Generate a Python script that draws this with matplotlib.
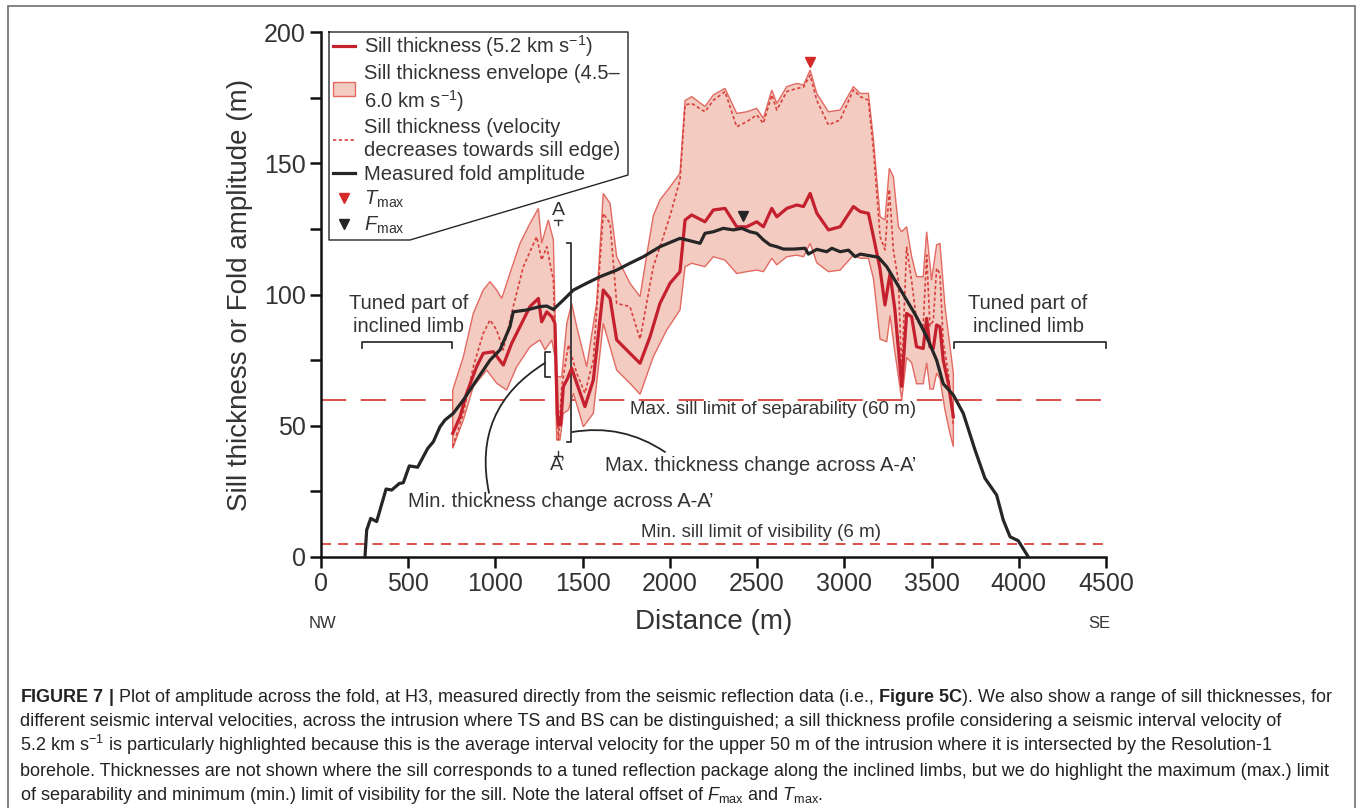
import numpy as np
import matplotlib
matplotlib.use("Agg")
import matplotlib.pyplot as plt
from matplotlib.lines import Line2D
from matplotlib.patches import Patch, Rectangle
from matplotlib.ticker import MultipleLocator

plt.rcParams['font.family'] = ['Liberation Sans', 'DejaVu Sans']
plt.rcParams['mathtext.fontset'] = 'custom'
plt.rcParams['mathtext.rm'] = 'Liberation Sans'
plt.rcParams['mathtext.it'] = 'Liberation Sans:italic'
plt.rcParams['mathtext.bf'] = 'Liberation Sans:bold'

# measured fold amplitude (m) against distance (m)
fold_x = [252, 262, 285, 319, 373, 405, 449, 472, 506, 554, 612, 644, 682, 711, 758,
          816, 892, 969, 1026, 1083, 1102, 1179, 1255, 1294, 1332, 1389, 1447, 1523,
          1600, 1695, 1771, 1848, 1943, 2058, 2096, 2173, 2201, 2249, 2306, 2364, 2412,
          2459, 2498, 2536, 2574, 2613, 2651, 2708, 2775, 2794, 2842, 2899, 2928, 2976,
          3024, 3062, 3091, 3195, 3243, 3300, 3357, 3414, 3472, 3529, 3567, 3625, 3682,
          3749, 3806, 3873, 3911, 3950, 3997, 4055]
fold_y = [0, 10.3, 14.7, 13.5, 25.9, 25.5, 28, 28.3, 34.7, 34.2, 41.4, 43.9, 49.6, 52.2, 54.7,
          59.8, 67.4, 75, 78.9, 87.7, 93.4, 94.1, 95.4, 95.6, 94.3, 97.9, 101.7, 104.3,
          106.8, 109.3, 111.9, 114.4, 118.2, 121.4, 120.8, 119.5, 123.3, 123.9, 125.2, 124.6, 125.2,
          123.9, 123.3, 120.8, 118.9, 118.2, 117.3, 117.3, 117.6, 115.4, 117.2, 116.3, 117.6, 116.3,
          116.9, 114.4, 115.4, 114.2, 110.6, 104.3, 97.9, 91.5, 83.9, 75, 66, 61.7, 54.7,
          40.8, 30, 23.6, 14.1, 7.7, 6.2, 0]

# sill thickness at 5.2 km/s
sill_x = [755, 797, 835, 892, 930, 988, 1045, 1093, 1150, 1198, 1246, 1265, 1294, 1323, 1341,
          1355, 1361, 1374, 1389, 1409, 1437, 1466, 1513, 1561, 1618, 1657, 1695, 1771, 1829,
          1886, 1943, 2001, 2058, 2087, 2125, 2201, 2249, 2316, 2383, 2440, 2498, 2536, 2584,
          2613, 2670, 2727, 2766, 2804, 2842, 2909, 2976, 3052, 3091, 3138, 3167, 3204, 3233,
          3262, 3290, 3329, 3357, 3386, 3414, 3452, 3472, 3491, 3510, 3529, 3548, 3567, 3596, 3625]
sill_y = [47.1, 53.4, 62.4, 72.5, 77.6, 78.2, 73.1, 81.4, 89, 95.4, 98.5, 89.6, 93.4, 91.5, 89,
          54.7, 50.3, 50.3, 64.9, 67.4, 71.9, 66.2, 57.3, 67.4, 101.7, 98.5, 82.7, 77.6, 73.8,
          83.9, 96.6, 104.3, 108.7, 128.4, 130.3, 127.7, 132.2, 132.8, 125.8, 125.8, 127.7, 125.8, 132.8,
          129.6, 132.8, 134.1, 133.5, 138.5, 131, 124.6, 125.8, 133.5, 131.6, 130.9, 122, 110, 96,
          108, 94.1, 65, 92.8, 91.5, 80.1, 79.4, 90.9, 80.1, 79.4, 88.4, 87.7, 75, 66.2, 53.4]

# envelope 4.5-6.0 km/s, upper and lower edges
env_hi_x = [755, 816, 873, 930, 969, 1007, 1036, 1083, 1141, 1198, 1246, 1265, 1303, 1332, 1341,
            1351, 1380, 1409, 1437, 1466, 1523, 1580, 1618, 1657, 1695, 1771, 1829, 1867, 1905,
            1943, 2001, 2058, 2087, 2125, 2201, 2249, 2316, 2383, 2440, 2498, 2536, 2584, 2613,
            2670, 2727, 2766, 2804, 2842, 2909, 2976, 3052, 3091, 3138, 3167, 3205, 3233, 3258,
            3281, 3310, 3329, 3357, 3386, 3414, 3452, 3472, 3500, 3529, 3548, 3577, 3606, 3625]
env_hi_y = [63.6, 76.3, 92.8, 101.7, 104.9, 101.7, 98.5, 108, 119.5, 127.1, 132.8, 119.5, 128.4, 120.8, 94.1,
            68.7, 68.7, 89, 96.6, 87.7, 72.5, 96.6, 138.5, 134.7, 114.4, 104.3, 99.2, 115, 130,
            136, 141, 146.2, 173.9, 175.4, 171.6, 176, 178.5, 169, 169.6, 170.9, 167.1, 177.9, 172.8,
            179.2, 180.4, 179.8, 185.5, 176.6, 169.6, 170.3, 179.2, 176.6, 176.6, 158.9, 129.6, 128.4, 148.1,
            144.9, 125.8, 123.9, 125.8, 114.4, 106.8, 106.8, 123.9, 105.5, 118.9, 119.5, 95.4, 80.1, 70]
env_lo_x = [755, 816, 873, 950, 1007, 1064, 1122, 1198, 1255, 1284, 1323, 1341, 1351, 1370, 1389,
            1418, 1447, 1504, 1561, 1618, 1695, 1771, 1829, 1905, 1982, 2058, 2087, 2125, 2201,
            2249, 2316, 2383, 2440, 2498, 2536, 2584, 2613, 2670, 2727, 2766, 2804, 2842, 2909,
            2976, 3052, 3091, 3138, 3167, 3205, 3243, 3262, 3290, 3329, 3357, 3386, 3414, 3452,
            3472, 3491, 3510, 3529, 3548, 3577, 3606, 3625]
env_lo_y = [41.4, 52.2, 64.9, 71.2, 66.2, 63.6, 72.5, 80.1, 82.7, 78.9, 82.7, 76.3, 44.6, 44.6, 54.7,
            56, 62.4, 49.6, 54.7, 89, 71.2, 66.2, 62, 76.3, 86.5, 94.1, 110.6, 111.9, 110.6,
            114.4, 113.1, 108, 108.7, 109.3, 108.7, 113.8, 111.3, 114.4, 115, 114.4, 119.5, 112.1, 108.7,
            109.3, 115, 113.8, 113.8, 106, 83, 82, 92, 78, 60, 76, 74, 66, 66,
            74, 64, 64, 70, 68, 56, 47, 42]

# thickness with velocity decreasing towards the sill edge
edge_x = [755, 816, 873, 930, 969, 1007, 1045, 1102, 1160, 1236, 1265, 1294, 1332, 1347, 1361,
          1380, 1418, 1466, 1513, 1561, 1618, 1657, 1695, 1771, 1829, 1905, 1962, 2001, 2058,
          2087, 2125, 2201, 2249, 2316, 2383, 2440, 2498, 2536, 2584, 2613, 2670, 2727, 2766,
          2804, 2842, 2909, 2976, 3052, 3091, 3138, 3167, 3205, 3233, 3258, 3281, 3310, 3329,
          3357, 3386, 3414, 3452, 3472, 3491, 3510, 3529, 3548, 3567, 3596, 3625]
edge_y = [42, 54.7, 72.5, 85.2, 90.3, 86.5, 78.9, 95.4, 110.6, 122, 113.1, 118.2, 105.5, 72.5, 44.6,
          64.9, 80.8, 70, 62.4, 75, 130.9, 127.1, 96.6, 95.4, 83, 110.6, 122, 130, 143.6,
          172.2, 172.8, 169.6, 174, 177.3, 163.9, 165.8, 168.4, 165.2, 176, 170.3, 177.3, 178.5, 179,
          183.6, 174, 164.6, 166.5, 177.9, 175.4, 174, 155, 122, 117, 140, 117, 105, 70,
          118, 105, 90, 88, 115, 88, 90, 110, 108, 82, 70, 50]

t_max = (2803, 188.7)
f_max = (2419, 129.9)
separability = 60
visibility_line = 5

RED = '#c4202e'
FILL = '#f3cbc1'
EDGE = '#e26a62'
DOT = '#d8403c'
BLACK = '#262626'
TXT = '#333333'

W, H = 1362, 808


def fx(px):
    return px / W


def fy(py):
    return 1 - py / H


fig = plt.figure(figsize=(W / 100, H / 100), dpi=100)
ax = fig.add_axes([fx(321), fy(557), 785 / W, 525 / H])

# reference limits
ax.axhline(separability, color=DOT, lw=1.3, dashes=(14, 8), zorder=0.5)
ax.axhline(visibility_line, color=DOT, lw=1.3, dashes=(5.5, 4), zorder=0.5)

# envelope, dotted and solid sill thickness, fold amplitude
ax.fill(np.concatenate([env_hi_x, env_lo_x[::-1]]),
        np.concatenate([env_hi_y, env_lo_y[::-1]]),
        facecolor=FILL, edgecolor=EDGE, lw=1.0, zorder=1)
ax.plot(edge_x, edge_y, color=DOT, lw=1.2, dashes=(2, 1.5), zorder=2)
ax.plot(sill_x, sill_y, color=RED, lw=2.3, zorder=3)
ax.plot(fold_x, fold_y, color=BLACK, lw=2.3, zorder=4)
ax.plot(*t_max, marker='v', color='#d42a2a', ms=7, zorder=5)
ax.plot(*f_max, marker='v', color=BLACK, ms=7, zorder=5)

ax.set_xlim(0, 4500)
ax.set_ylim(0, 200)
for s in ['top', 'right']:
    ax.spines[s].set_visible(False)
for s in ['left', 'bottom']:
    ax.spines[s].set_linewidth(1.8)
    ax.spines[s].set_color('#111111')
ax.set_xticks(np.arange(0, 4501, 500))
ax.set_yticks(np.arange(0, 201, 50))
ax.yaxis.set_minor_locator(MultipleLocator(25))
ax.tick_params(which='both', direction='out', length=8, width=1.8, color='#111111',
               labelsize=18, labelcolor=TXT, pad=3)

ax.set_ylabel('Sill thickness or Fold amplitude (m)', fontsize=20, color=TXT)
ax.yaxis.label.set_va('center')
ax.yaxis.set_label_coords(-0.103, 0.5)
ax.set_xlabel('Distance (m)', fontsize=20, color=TXT)
ax.xaxis.label.set_va('center')
ax.xaxis.set_label_coords(0.5, -0.124)
ax.text(0.0025, -0.126, 'NW', transform=ax.transAxes, ha='center', va='center',
        fontsize=12, color=TXT)
ax.text(0.992, -0.126, 'SE', transform=ax.transAxes, ha='center', va='center',
        fontsize=12, color=TXT)

# annotations
ax.text(1771, 56, 'Max. sill limit of separability (60 m)', fontsize=13.5, color=TXT, va='center')
ax.text(1834, 9.5, 'Min. sill limit of visibility (6 m)', fontsize=13.5, color=TXT, va='center')
ax.text(504, 92.2, 'Tuned part of\ninclined limb', fontsize=14.5, color=TXT, ha='center',
        va='center', linespacing=1.3)
ax.text(4053, 92.2, 'Tuned part of\ninclined limb', fontsize=14.5, color=TXT, ha='center',
        va='center', linespacing=1.3)
ax.plot([237, 237, 749, 749], [79.6, 82, 82, 79.6], color=TXT, lw=1.3, clip_on=False)
ax.plot([3629, 3629, 4500, 4500], [79.6, 82, 82, 79.6], color=TXT, lw=1.3, clip_on=False)

ax.text(1359, 132, 'A', fontsize=14, color=TXT, ha='center', va='center')
ax.plot([1336, 1382], [128.4, 128.4], color=TXT, lw=1)
ax.plot([1359, 1359], [128.4, 126.6], color=TXT, lw=1)
ax.text(1359, 35, 'A’', fontsize=14, color=TXT, ha='center', va='center')
ax.plot([1336, 1382], [38.5, 38.5], color=TXT, lw=1)
ax.plot([1359, 1359], [38.5, 40.3], color=TXT, lw=1)

ax.plot([1408, 1433, 1433, 1408], [119.5, 119.5, 43.9, 43.9], color=TXT, lw=1.3)
ax.plot([1313, 1284, 1284, 1313], [78.1, 78.1, 68.6, 68.6], color=TXT, lw=1.3)
ax.annotate('', xy=(1972, 40), xytext=(1439, 47.6),
            arrowprops=dict(arrowstyle='-', color=BLACK, lw=1.3, shrinkA=0, shrinkB=0,
                            connectionstyle='arc3,rad=-0.2'))
ax.annotate('', xy=(1284, 73.9), xytext=(963, 24.4),
            arrowprops=dict(arrowstyle='-', color=BLACK, lw=1.3, shrinkA=0, shrinkB=0,
                            connectionstyle='arc3,rad=-0.35'))
ax.text(1628, 35, 'Max. thickness change across A-A’', fontsize=14.5, color=TXT, va='center')
ax.text(499, 21, 'Min. thickness change across A-A’', fontsize=14.5, color=TXT, va='center')

# legend with its cut-corner box
handles = [
    Line2D([], [], color=RED, lw=2.3),
    Patch(facecolor=FILL, edgecolor=EDGE, lw=1),
    Line2D([], [], color=DOT, lw=1.2, dashes=(2, 1.5)),
    Line2D([], [], color=BLACK, lw=2.3),
    Line2D([], [], color='#d42a2a', marker='v', ls='none', ms=7),
    Line2D([], [], color=BLACK, marker='v', ls='none', ms=7),
]
labels = [
    'Sill thickness (5.2 km s$^{-1}$)',
    'Sill thickness envelope (4.5–\n6.0 km s$^{-1}$)',
    'Sill thickness (velocity\ndecreases towards sill edge)',
    'Measured fold amplitude',
    r'$T_{\mathrm{max}}$',
    r'$F_{\mathrm{max}}$',
]
leg = ax.legend(handles, labels, loc='upper left', bbox_to_anchor=(fx(333), fy(33)),
                bbox_transform=fig.transFigure, frameon=False, fontsize=14.5,
                handlelength=1.1, handletextpad=0.45, labelspacing=0.24,
                borderpad=0, borderaxespad=0)
for t in leg.get_texts():
    t.set_color(TXT)
    t.set_linespacing(1.25)
box = [(329, 32), (628, 32), (628, 175), (410, 240), (329, 240), (329, 32)]
fig.add_artist(Line2D([fx(p[0]) for p in box], [fy(p[1]) for p in box],
                      color=BLACK, lw=1.0))

# frame and caption
fig.add_artist(Rectangle((fx(8), -0.05), fx(1355) - fx(8), fy(6) + 0.05,
                         fill=False, edgecolor='#707070', lw=1.2))
caption = [
    r'$\mathbf{FIGURE\ 7\ |}$ Plot of amplitude across the fold, at H3, measured directly from the '
    r'seismic reflection data (i.e., $\mathbf{Figure\ 5C}$). We also show a range of sill thicknesses, for',
    'different seismic interval velocities, across the intrusion where TS and BS can be distinguished; '
    'a sill thickness profile considering a seismic interval velocity of',
    r'5.2 km s$^{-1}$ is particularly highlighted because this is the average interval velocity for '
    'the upper 50 m of the intrusion where it is intersected by the Resolution-1',
    'borehole. Thicknesses are not shown where the sill corresponds to a tuned reflection package '
    'along the inclined limbs, but we do highlight the maximum (max.) limit',
    r'of separability and minimum (min.) limit of visibility for the sill. Note the lateral offset '
    r'of $F_{\mathrm{max}}$ and $T_{\mathrm{max}}$.',
]
for i, line in enumerate(caption):
    fig.text(fx(20), fy(702 + 24.5 * i), line, fontsize=12.95, color='#222222', va='baseline')

fig.savefig('out.png', dpi=100)
